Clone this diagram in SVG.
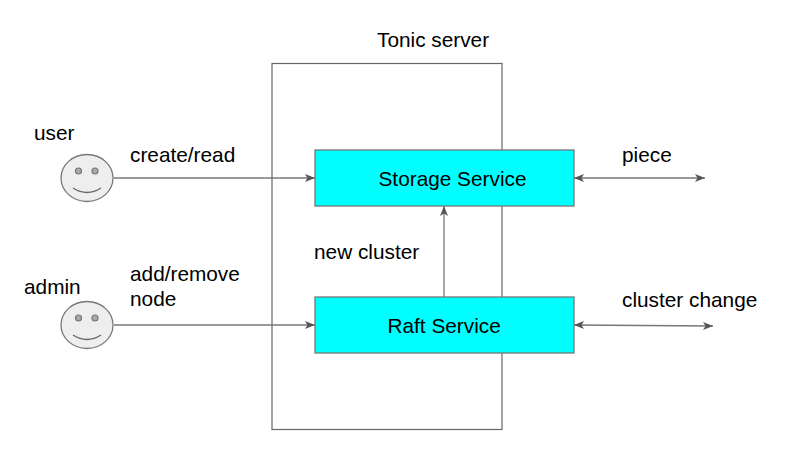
<svg xmlns="http://www.w3.org/2000/svg" width="785" height="465" viewBox="0 0 785 465">
<style>
text{font-family:"Liberation Sans",Arial,sans-serif;font-size:20.8px;fill:#000}
.c{stroke:#777;stroke-width:1.3;fill:none}
.box{fill:#0ff;stroke:#777;stroke-width:1.3}
.face{fill:#eee;stroke:#777;stroke-width:1.3}
.eye{fill:#aaa;stroke:#777;stroke-width:1.2}
.mouth{fill:none;stroke:#666;stroke-width:1.3}
</style>
<defs>
<marker id="a" markerUnits="userSpaceOnUse" markerWidth="11" markerHeight="10" refX="10" refY="5" orient="auto-start-reverse">
<path d="M0 1L10 5L0 9L2.5 5Z" fill="#555"/>
</marker>
</defs>
<rect width="785" height="465" fill="#fff"/>
<g id="server">
<rect x="272" y="63.500" width="230" height="366" fill="none" stroke="#666" stroke-width="1.200"/>
<text x="377" y="47">Tonic server</text>
</g>
<g id="connectors">
<path class="c" d="M114 178H315" marker-end="url(#a)"/>
<path class="c" d="M114 325H315" marker-end="url(#a)"/>
<path class="c" d="M444 297V206" marker-end="url(#a)"/>
<path class="c" d="M574 178H705" marker-start="url(#a)" marker-end="url(#a)"/>
<path class="c" d="M574 325L713 326" marker-start="url(#a)" marker-end="url(#a)"/>
</g>
<g id="storage">
<rect class="box" x="315" y="150" width="259" height="56"/>
<text x="378.500" y="186">Storage Service</text>
</g>
<g id="raft">
<rect class="box" x="315" y="297" width="259" height="56"/>
<text x="387.500" y="333">Raft Service</text>
</g>
<g id="user">
<ellipse class="face" cx="87" cy="178" rx="26" ry="23.500"/>
<circle class="eye" cx="78.500" cy="171" r="3"/>
<circle class="eye" cx="95" cy="171" r="3"/>
<path class="mouth" d="M73 188Q87 197 101 188"/>
<text x="34" y="139.500">user</text>
</g>
<g id="admin">
<ellipse class="face" cx="87" cy="325" rx="26" ry="23.500"/>
<circle class="eye" cx="78.500" cy="318" r="3"/>
<circle class="eye" cx="95" cy="318" r="3"/>
<path class="mouth" d="M73 335Q87 344 101 335"/>
<text x="24" y="294">admin</text>
</g>
<g id="labels">
<text x="130" y="162">create/read</text>
<text x="130" y="281">add/remove</text>
<text x="130" y="306">node</text>
<text x="314" y="259">new cluster</text>
<text x="622" y="162">piece</text>
<text x="622" y="307">cluster change</text>
</g>
</svg>
